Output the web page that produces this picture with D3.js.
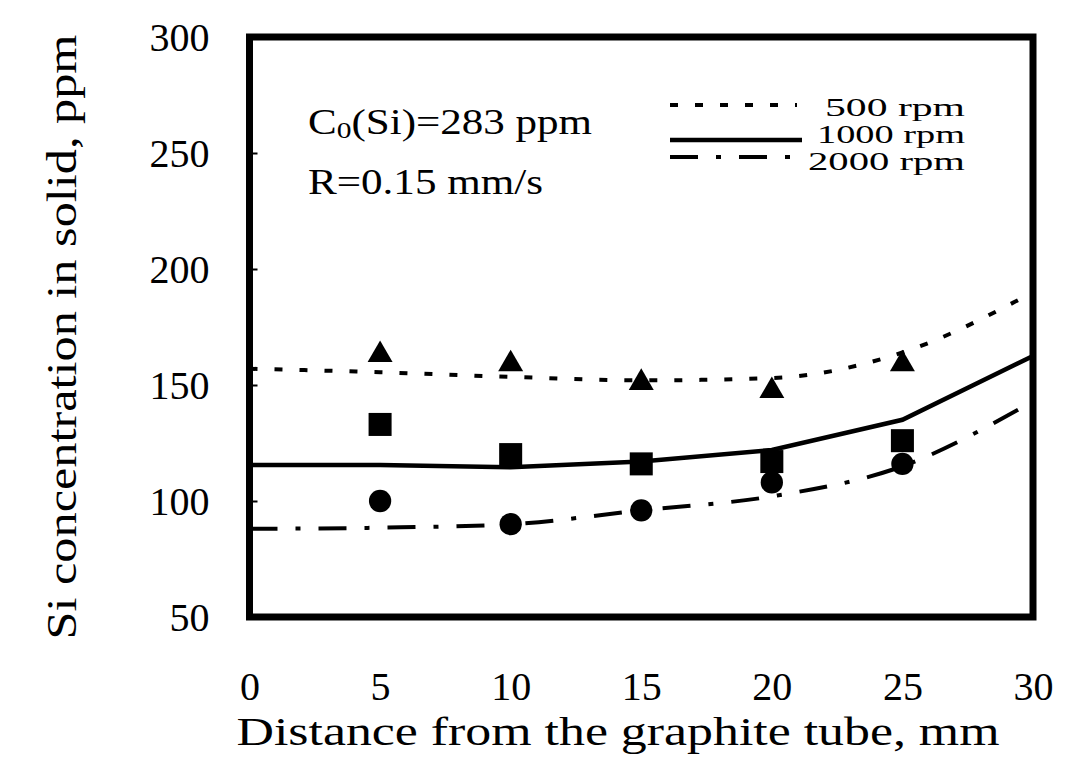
<!DOCTYPE html>
<html>
<head>
<meta charset="utf-8">
<script src="https://cdn.jsdelivr.net/npm/d3@7"></script>
<style>
  body { margin: 0; background: #fff; }
  text { font-family: "Liberation Serif", "Times New Roman", serif; fill: #000; }
</style>
</head>
<body>
<div id="chart"></div>
<script>
var width = 1074,
    height = 757;

// measured points
var distance = [5, 10, 15, 20, 25];
var rpm500 = [163, 159, 151, 147.5, 159];
var rpm1000 = [133, 120, 116, 117, 126];
var rpm2000 = [100, 90, 96, 108, 116];

// calculated curves
var curveX = [0, 5, 10, 15, 20, 25, 30];
var calc500 = [157, 155.5, 153.5, 152, 153, 164, 190];
var calc1000 = [115.5, 115.5, 114.5, 117, 122, 135, 162.5];
var calc2000 = [88, 88.5, 90, 96, 102, 115, 143];

var xTicks = [0, 5, 10, 15, 20, 25, 30];
var yTicks = [50, 100, 150, 200, 250, 300];
var legendLabels = ["500 rpm", "1000 rpm", "2000 rpm"];

var svg = d3.select("#chart")
    .append("svg")
    .attr("width", width)
    .attr("height", height);

var x = d3.scaleLinear().domain([0, 30]).range([249.5, 1033]);
var y = d3.scaleLinear().domain([50, 300]).range([617, 37]);

var styles = [
  {dash: "8,17", width: 4, curve: d3.curveMonotoneX},
  {dash: null, width: 4.5, curve: d3.curveLinear},
  {dash: "28,18,5,18", width: 4, curve: d3.curveMonotoneX}
];

var plot = svg.append("g");
plot.append("clipPath").attr("id", "clip")
    .append("rect")
    .attr("x", x(0)).attr("y", y(300))
    .attr("width", x(30) - x(0)).attr("height", y(50) - y(300));

[calc500, calc1000, calc2000].forEach(function(vals, i) {
  var line = d3.line()
      .x(function(d, j) { return x(curveX[j]); })
      .y(function(d) { return y(d); })
      .curve(styles[i].curve);
  plot.append("path")
      .attr("d", line(vals))
      .attr("clip-path", "url(#clip)")
      .attr("fill", "none")
      .attr("stroke", "black")
      .attr("stroke-width", styles[i].width)
      .attr("stroke-dasharray", styles[i].dash);
});

// markers
var symbols = [
  {type: d3.symbolTriangle, size: 270, vals: rpm500},
  {type: d3.symbolSquare, size: 530, vals: rpm1000},
  {type: d3.symbolCircle, size: 390, vals: rpm2000}
];
symbols.forEach(function(s) {
  plot.selectAll(null)
      .data(s.vals)
      .enter().append("path")
      .attr("d", d3.symbol().type(s.type).size(s.size))
      .attr("transform", function(d, j) { return "translate(" + x(distance[j]) + "," + y(d) + ")"; })
      .attr("fill", "black");
});

// frame
svg.append("rect")
    .attr("x", x(0)).attr("y", y(300))
    .attr("width", x(30) - x(0)).attr("height", y(50) - y(300))
    .attr("fill", "none")
    .attr("stroke", "black")
    .attr("stroke-width", 7);

// axes
var yAxis = svg.append("g")
    .attr("transform", "translate(" + x(0) + ",0)")
    .call(d3.axisLeft(y).tickValues(yTicks).tickSize(-8).tickPadding(40));
var xAxis = svg.append("g")
    .attr("transform", "translate(0," + y(50) + ")")
    .call(d3.axisBottom(x).tickValues(xTicks).tickSize(0).tickPadding(83));
[yAxis, xAxis].forEach(function(a) {
  a.select(".domain").remove();
  a.selectAll("line").attr("stroke-width", 2);
  a.selectAll("text")
      .style("font-family", "Liberation Serif")
      .style("font-size", "40px");
});
yAxis.selectAll("text").attr("dy", "0.34em");
xAxis.selectAll("text").attr("dy", "0");

// axis titles
svg.append("text")
    .attr("x", 618).attr("y", 745)
    .attr("text-anchor", "middle")
    .attr("font-size", 41)
    .attr("textLength", 763)
    .attr("lengthAdjust", "spacingAndGlyphs")
    .text("Distance from the graphite tube, mm");

svg.append("text")
    .attr("transform", "translate(76,337) rotate(-90)")
    .attr("text-anchor", "middle")
    .attr("font-size", 42)
    .attr("textLength", 605)
    .attr("lengthAdjust", "spacingAndGlyphs")
    .text("Si concentration in solid, ppm");

// conditions
var c0 = svg.append("text")
    .attr("x", 308).attr("y", 134)
    .attr("font-size", 35)
    .attr("textLength", 284)
    .attr("lengthAdjust", "spacingAndGlyphs");
c0.append("tspan").text("C");
c0.append("tspan").attr("font-size", 24).attr("dy", 4).text("0");
c0.append("tspan").attr("dy", -4).text("(Si)=283 ppm");

svg.append("text")
    .attr("x", 308).attr("y", 194)
    .attr("font-size", 35)
    .attr("textLength", 235)
    .attr("lengthAdjust", "spacingAndGlyphs")
    .text("R=0.15 mm/s");

// legend
var legY = [105, 140, 157];
var legText = [116, 143, 170];
var legEnd = [797, 802, 793];
var legWidth = [140, 148, 157];
legendLabels.forEach(function(lab, i) {
  svg.append("line")
      .attr("x1", 670).attr("x2", legEnd[i])
      .attr("y1", legY[i]).attr("y2", legY[i])
      .attr("stroke", "black")
      .attr("stroke-width", styles[i].width)
      .attr("stroke-dasharray", styles[i].dash);
  svg.append("text")
      .attr("x", 965).attr("y", legText[i])
      .attr("text-anchor", "end")
      .attr("font-size", 25)
      .attr("textLength", legWidth[i])
      .attr("lengthAdjust", "spacingAndGlyphs")
      .text(lab);
});
</script>
</body>
</html>
